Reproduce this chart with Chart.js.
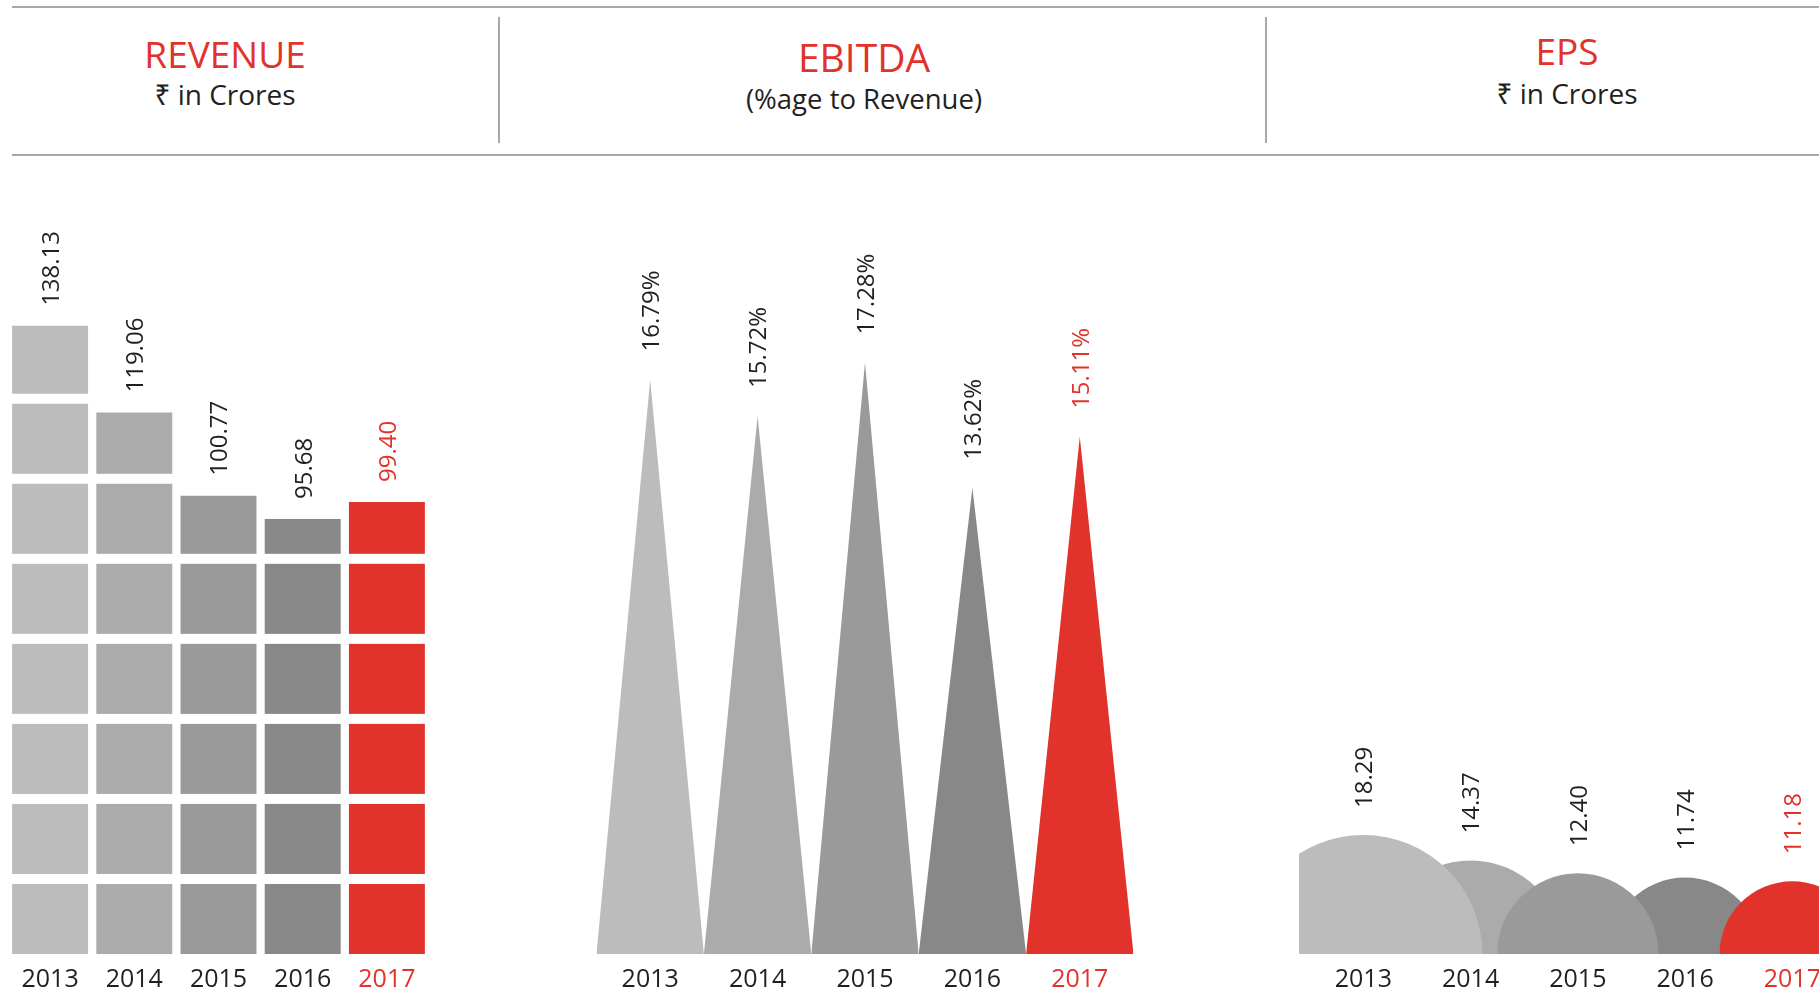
<!DOCTYPE html>
<html>
<head>
<meta charset="utf-8">
<script src="https://cdn.jsdelivr.net/npm/chart.js@4.4.0/dist/chart.umd.min.js"></script>
<style>
  html, body { margin:0; padding:0; background:#fff; }
  body { width:1819px; height:994px; overflow:hidden; position:relative; font-family:"Open Sans","Noto Sans",sans-serif; }
  .rule { position:absolute; background:#a8a8a8; }
  .title { position:absolute; width:500px; text-align:center; color:#e2322c; font-size:37px; line-height:1; transform:translateY(-50%); }
  .sub { position:absolute; width:500px; text-align:center; color:#231f20; font-size:28px; line-height:1; transform:translateY(-50%); }
  canvas { position:absolute; top:160px; }
</style>
</head>
<body>
  <!-- header band -->
  <div class="rule" style="left:12px;top:6px;width:1820px;height:2px"></div>
  <div class="rule" style="left:12px;top:154px;width:1820px;height:2px"></div>
  <div class="rule" style="left:498px;top:17px;width:2px;height:126px"></div>
  <div class="rule" style="left:1265px;top:17px;width:2px;height:126px"></div>

  <div class="title" style="left:-25px;top:53px">REVENUE</div>
  <div class="sub" style="left:-25px;top:94px">₹ in Crores</div>
  <div class="title" style="left:614px;top:56px;font-size:39px">EBITDA</div>
  <div class="sub" style="left:614px;top:99px;font-size:27.5px">(%age to Revenue)</div>
  <div class="title" style="left:1317px;top:50px">EPS</div>
  <div class="sub" style="left:1317px;top:93px">₹ in Crores</div>

  <canvas id="c-rev" width="480" height="846" style="left:0px"></canvas>
  <canvas id="c-ebitda" width="680" height="846" style="left:510px"></canvas>
  <canvas id="c-eps" width="600" height="846" style="left:1280px"></canvas>

<script>
// ── data ──
const YEARS   = ['2013', '2014', '2015', '2016', '2017'];
const REVENUE = [138.13, 119.06, 100.77, 95.68, 99.40];
const EBITDA  = [16.79, 15.72, 17.28, 13.62, 15.11];
const EPS     = [18.29, 14.37, 12.40, 11.74, 11.18];
const SHADES  = ['#bcbcbc', '#ababab', '#9a9a9a', '#888888', '#e2322c'];

const RED = '#e2322c';
const INK = '#231f20';
const FONT = '"Open Sans", "Noto Sans", sans-serif';

Chart.defaults.font.family = FONT;
Chart.defaults.animation = false;
Chart.defaults.events = [];
Chart.defaults.plugins.legend.display = false;
Chart.defaults.plugins.tooltip.enabled = false;

const yearTicks = {
  color: ctx => ctx.index === YEARS.length - 1 ? RED : INK,
  font: { size: 25 },
  padding: 11,
  maxRotation: 0,
  autoSkip: false
};
const hiddenGrid = { display: false, drawTicks: false };

// rotated value labels above every mark
function valueLabels(values, tip, fmt, gap) {
  return {
    id: 'valueLabels',
    afterDatasetsDraw(chart) {
      const ctx = chart.ctx;
      values.forEach((v, i) => {
        const p = tip(chart, i);
        if (!p || isNaN(p.y)) return;
        ctx.save();
        ctx.translate(p.x + 2, p.y - gap);
        ctx.rotate(-Math.PI / 2);
        ctx.font = '24px ' + FONT;
        ctx.fillStyle = i === values.length - 1 ? RED : INK;
        ctx.textAlign = 'left';
        ctx.textBaseline = 'middle';
        ctx.fillText(fmt(v), 0, 0);
        ctx.restore();
      });
    }
  };
}

// Revenue: bars cut into tiles by white gaps
const TILE = 17.6, GAP = 2.2;   // in revenue units
const tileGaps = {
  id: 'tileGaps',
  afterDatasetsDraw(chart) {
    const { ctx } = chart;
    const y = chart.scales.y;
    const pitch = y.getPixelForValue(0) - y.getPixelForValue(TILE);
    const gap = y.getPixelForValue(0) - y.getPixelForValue(GAP);
    ctx.save();
    ctx.fillStyle = '#fff';
    chart.getDatasetMeta(0).data.forEach(bar => {
      for (let j = 1; bar.base - j * pitch + gap > bar.y; j++) {
        const y0 = Math.max(bar.y - 1, bar.base - j * pitch);
        ctx.fillRect(bar.x - bar.width / 2 - 1, y0, bar.width + 2, bar.base - j * pitch + gap - y0);
      }
    });
    ctx.restore();
  }
};

new Chart(document.getElementById('c-rev'), {
  type: 'bar',
  data: { labels: YEARS, datasets: [{ data: REVENUE, backgroundColor: SHADES, borderWidth: 0, barPercentage: 0.902, categoryPercentage: 1 }] },
  options: {
    responsive: false,
    layout: { padding: { left: 8, right: 51, top: 0, bottom: 0 } },
    scales: {
      x: { grid: hiddenGrid, border: { display: false }, ticks: yearTicks },
      y: { display: false, min: 0, max: 174.6 }
    }
  },
  plugins: [tileGaps, valueLabels(REVENUE, (c, i) => c.getDatasetMeta(0).data[i], v => v.toFixed(2), 20)]
});

// EBITDA: one filled triangle per year
new Chart(document.getElementById('c-ebitda'), {
  type: 'line',
  data: {
    datasets: EBITDA.map((v, i) => ({
      data: [{ x: i - 0.5, y: 0 }, { x: i, y: v }, { x: i + 0.5, y: 0 }],
      backgroundColor: SHADES[i],
      borderWidth: 0,
      pointRadius: 0,
      tension: 0,
      fill: 'origin'
    }))
  },
  options: {
    responsive: false,
    layout: { padding: { left: 86.5, right: 56.5, top: 0, bottom: 0 } },
    scales: {
      x: {
        type: 'linear', min: -0.5, max: 4.5,
        grid: hiddenGrid, border: { display: false },
        afterBuildTicks: axis => { axis.ticks = YEARS.map((_, i) => ({ value: i })); },
        ticks: { ...yearTicks, callback: v => YEARS[v] }
      },
      y: { display: false, min: 0, max: 23.2 }
    }
  },
  plugins: [valueLabels(EBITDA, (c, i) => c.getDatasetMeta(i).data[1], v => v.toFixed(2) + '%', 28)]
});

// EPS: half discs sitting on the baseline, odd years drawn in front
const front = [0, 2, 4], back = [1, 3];
const epsPoint = i => ({ x: i, y: 0, r: 0, v: EPS[i] });

const epsChart = new Chart(document.getElementById('c-eps'), {
  type: 'bubble',
  data: {
    datasets: [
      { data: front.map(epsPoint), backgroundColor: front.map(i => SHADES[i]), borderWidth: 0, clip: 0 },
      { data: back.map(epsPoint), backgroundColor: back.map(i => SHADES[i]), borderWidth: 0, clip: 0 }
    ]
  },
  options: {
    responsive: false,
    layout: { autoPadding: false, padding: { left: 19, right: 34, top: 0, bottom: 0 } },
    scales: {
      x: {
        type: 'linear', min: -0.6, max: 4.5,
        grid: hiddenGrid, border: { display: false },
        afterBuildTicks: axis => { axis.ticks = YEARS.map((_, i) => ({ value: i })); },
        ticks: { ...yearTicks, callback: v => YEARS[v] }
      },
      y: { display: false, min: 0, max: 122 }
    }
  },
  plugins: [valueLabels(EPS, (c, i) => {
    const ds = front.includes(i) ? 0 : 1;
    const idx = (ds === 0 ? front : back).indexOf(i);
    const el = c.getDatasetMeta(ds).data[idx];
    return el && { x: el.x, y: el.y - el.options.radius };
  }, v => v.toFixed(2), 27)]
});

// bubble radius = height of the EPS value on the y scale
const epsY = epsChart.scales.y;
epsChart.data.datasets.forEach(ds => ds.data.forEach(p => {
  p.r = epsY.getPixelForValue(0) - epsY.getPixelForValue(p.v);
}));
epsChart.update();
</script>
</body>
</html>
